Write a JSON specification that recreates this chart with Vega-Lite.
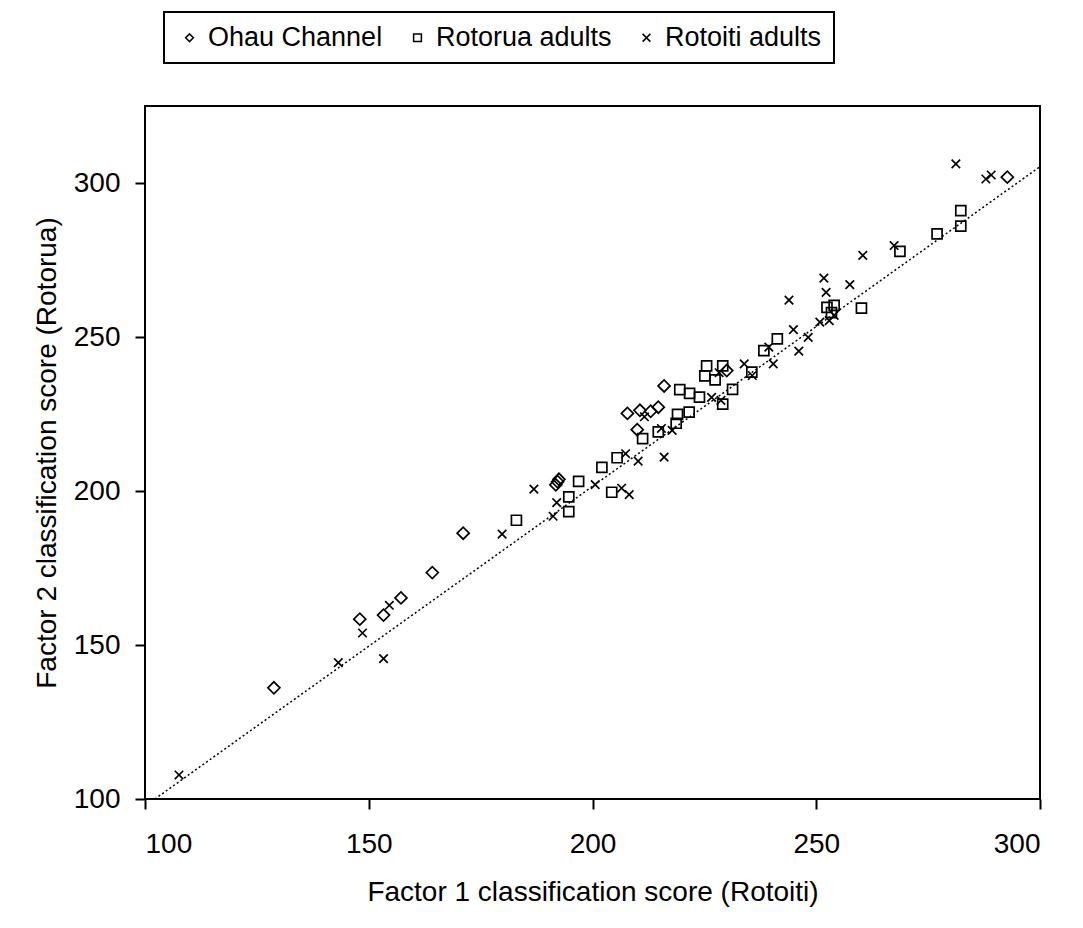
{
  "$schema": "https://vega.github.io/schema/vega-lite/v6.json",
  "width": 895,
  "height": 693,
  "autosize": {"type": "none"},
  "padding": {"left": 145, "top": 106, "right": 43, "bottom": 129},
  "background": "white",
  "datasets": {
    "pts": [
      {"g": "Ohau Channel", "x": 128.8, "y": 136.1},
      {"g": "Ohau Channel", "x": 148.0, "y": 158.4},
      {"g": "Ohau Channel", "x": 153.3, "y": 159.7},
      {"g": "Ohau Channel", "x": 157.2, "y": 165.3},
      {"g": "Ohau Channel", "x": 164.2, "y": 173.5},
      {"g": "Ohau Channel", "x": 171.1, "y": 186.3},
      {"g": "Ohau Channel", "x": 191.8, "y": 202.0},
      {"g": "Ohau Channel", "x": 192.2, "y": 203.0},
      {"g": "Ohau Channel", "x": 192.5, "y": 203.8},
      {"g": "Ohau Channel", "x": 207.8, "y": 225.2},
      {"g": "Ohau Channel", "x": 210.6, "y": 226.2},
      {"g": "Ohau Channel", "x": 213.0, "y": 225.9},
      {"g": "Ohau Channel", "x": 214.7, "y": 227.2},
      {"g": "Ohau Channel", "x": 210.0, "y": 219.9},
      {"g": "Ohau Channel", "x": 216.0, "y": 234.1},
      {"g": "Ohau Channel", "x": 230.0, "y": 239.1},
      {"g": "Ohau Channel", "x": 292.7, "y": 301.9},
      {"g": "Rotorua adults", "x": 183.0, "y": 190.5},
      {"g": "Rotorua adults", "x": 194.7, "y": 198.1},
      {"g": "Rotorua adults", "x": 194.7, "y": 193.3},
      {"g": "Rotorua adults", "x": 196.9, "y": 203.1},
      {"g": "Rotorua adults", "x": 202.1, "y": 207.7},
      {"g": "Rotorua adults", "x": 204.3, "y": 199.6},
      {"g": "Rotorua adults", "x": 205.5, "y": 210.8},
      {"g": "Rotorua adults", "x": 211.2, "y": 217.0},
      {"g": "Rotorua adults", "x": 214.7, "y": 219.2},
      {"g": "Rotorua adults", "x": 218.7, "y": 222.0},
      {"g": "Rotorua adults", "x": 219.0, "y": 224.9},
      {"g": "Rotorua adults", "x": 221.6, "y": 225.6},
      {"g": "Rotorua adults", "x": 219.5, "y": 232.9},
      {"g": "Rotorua adults", "x": 221.7, "y": 231.7},
      {"g": "Rotorua adults", "x": 223.9, "y": 230.5},
      {"g": "Rotorua adults", "x": 229.1, "y": 228.2},
      {"g": "Rotorua adults", "x": 231.3, "y": 233.0},
      {"g": "Rotorua adults", "x": 225.5, "y": 240.6},
      {"g": "Rotorua adults", "x": 229.1, "y": 240.6},
      {"g": "Rotorua adults", "x": 225.1, "y": 237.4},
      {"g": "Rotorua adults", "x": 227.4, "y": 236.1},
      {"g": "Rotorua adults", "x": 235.6, "y": 238.6},
      {"g": "Rotorua adults", "x": 238.3, "y": 245.6},
      {"g": "Rotorua adults", "x": 241.3, "y": 249.4},
      {"g": "Rotorua adults", "x": 252.4, "y": 259.6},
      {"g": "Rotorua adults", "x": 254.0, "y": 260.3},
      {"g": "Rotorua adults", "x": 253.4, "y": 257.9},
      {"g": "Rotorua adults", "x": 260.1, "y": 259.4},
      {"g": "Rotorua adults", "x": 268.7, "y": 277.8},
      {"g": "Rotorua adults", "x": 277.0, "y": 283.5},
      {"g": "Rotorua adults", "x": 282.3, "y": 286.0},
      {"g": "Rotorua adults", "x": 282.3, "y": 291.0},
      {"g": "Rotoiti adults", "x": 107.6, "y": 107.8},
      {"g": "Rotoiti adults", "x": 143.2, "y": 144.3},
      {"g": "Rotoiti adults", "x": 148.6, "y": 153.9},
      {"g": "Rotoiti adults", "x": 153.3, "y": 145.6},
      {"g": "Rotoiti adults", "x": 154.6, "y": 162.9},
      {"g": "Rotoiti adults", "x": 179.8, "y": 186.0},
      {"g": "Rotoiti adults", "x": 186.9, "y": 200.6},
      {"g": "Rotoiti adults", "x": 191.2, "y": 191.8},
      {"g": "Rotoiti adults", "x": 192.0, "y": 196.2},
      {"g": "Rotoiti adults", "x": 200.6, "y": 202.1},
      {"g": "Rotoiti adults", "x": 206.5, "y": 200.9},
      {"g": "Rotoiti adults", "x": 208.2, "y": 198.8},
      {"g": "Rotoiti adults", "x": 207.4, "y": 212.1},
      {"g": "Rotoiti adults", "x": 210.2, "y": 209.7},
      {"g": "Rotoiti adults", "x": 211.6, "y": 224.1},
      {"g": "Rotoiti adults", "x": 215.4, "y": 220.3},
      {"g": "Rotoiti adults", "x": 217.8, "y": 219.7},
      {"g": "Rotoiti adults", "x": 216.0, "y": 211.0},
      {"g": "Rotoiti adults", "x": 226.6, "y": 230.4},
      {"g": "Rotoiti adults", "x": 228.7, "y": 229.4},
      {"g": "Rotoiti adults", "x": 228.3, "y": 238.4},
      {"g": "Rotoiti adults", "x": 233.9, "y": 241.3},
      {"g": "Rotoiti adults", "x": 235.7, "y": 237.5},
      {"g": "Rotoiti adults", "x": 239.4, "y": 246.7},
      {"g": "Rotoiti adults", "x": 240.4, "y": 241.3},
      {"g": "Rotoiti adults", "x": 243.9, "y": 262.0},
      {"g": "Rotoiti adults", "x": 244.9, "y": 252.4},
      {"g": "Rotoiti adults", "x": 246.1, "y": 245.4},
      {"g": "Rotoiti adults", "x": 248.2, "y": 249.9},
      {"g": "Rotoiti adults", "x": 250.8, "y": 254.8},
      {"g": "Rotoiti adults", "x": 252.9, "y": 255.3},
      {"g": "Rotoiti adults", "x": 254.0, "y": 257.0},
      {"g": "Rotoiti adults", "x": 251.7, "y": 269.1},
      {"g": "Rotoiti adults", "x": 252.2, "y": 264.5},
      {"g": "Rotoiti adults", "x": 257.5, "y": 267.0},
      {"g": "Rotoiti adults", "x": 260.4, "y": 276.5},
      {"g": "Rotoiti adults", "x": 267.4, "y": 279.7},
      {"g": "Rotoiti adults", "x": 281.2, "y": 306.2},
      {"g": "Rotoiti adults", "x": 287.9, "y": 301.3},
      {"g": "Rotoiti adults", "x": 289.1, "y": 302.6}
    ],
    "trend": [
      {"x": 102.2, "y": 100},
      {"x": 300, "y": 305.3}
    ]
  },
  "encoding": {
    "x": {
      "field": "x", "type": "quantitative",
      "scale": {"domain": [100, 300], "nice": false, "zero": false},
      "axis": {"values": [100, 150, 200, 250, 300], "title": "Factor 1 classification score (Rotoiti)", "labelPadding": 21, "titleBaseline": "alphabetic", "titleY": 101}
    },
    "y": {
      "field": "y", "type": "quantitative",
      "scale": {"domain": [100, 325], "nice": false, "zero": false},
      "axis": {"values": [100, 150, 200, 250, 300], "title": "Factor 2 classification score (Rotorua)", "labelPadding": 15, "titleBaseline": "alphabetic", "titleX": -90}
    }
  },
  "layer": [
    {
      "data": {"name": "trend"},
      "mark": {"type": "line", "color": "black", "strokeWidth": 1.5, "strokeDash": [2, 2.5]},
      "encoding": {}
    },
    {
      "data": {"name": "pts"},
      "transform": [{"filter": "datum.g === 'Ohau Channel'"}],
      "mark": {"type": "point", "filled": false, "color": "black", "strokeWidth": 1.7, "opacity": 1, "size": 144},
      "encoding": {
        "shape": {
          "field": "g", "type": "nominal",
          "scale": {"domain": ["Ohau Channel", "Rotorua adults", "Rotoiti adults"], "range": ["diamond", "square", "M-1,-1L1,1M-1,1L1,-1"]},
          "legend": {"title": null, "orient": "none", "legendX": 19, "legendY": -94, "direction": "horizontal"}
        }
      }
    },
    {
      "data": {"name": "pts"},
      "transform": [{"filter": "datum.g === 'Rotorua adults'"}],
      "mark": {"type": "point", "filled": false, "color": "black", "strokeWidth": 1.7, "opacity": 1, "size": 100},
      "encoding": {
        "shape": {"field": "g", "type": "nominal"}
      }
    },
    {
      "data": {"name": "pts"},
      "transform": [{"filter": "datum.g === 'Rotoiti adults'"}],
      "mark": {"type": "point", "filled": false, "color": "black", "strokeWidth": 1.7, "opacity": 1, "size": 72},
      "encoding": {
        "shape": {"field": "g", "type": "nominal"}
      }
    }
  ],
  "config": {
    "font": "Liberation Sans",
    "view": {"stroke": "black", "strokeWidth": 2},
    "axis": {
      "domain": false,
      "grid": false,
      "ticks": true,
      "tickColor": "black",
      "tickWidth": 2,
      "tickSize": 10,
      "labelFont": "Liberation Sans",
      "labelFontSize": 28,
      "labelColor": "black",
      "titleFont": "Liberation Sans",
      "titleFontSize": 28,
      "titleFontWeight": "normal",
      "titleColor": "black"
    },
    "legend": {
      "strokeColor": "black",
      "strokeWidth": 2,
      "padding": 12,
      "labelFont": "Liberation Sans",
      "labelFontSize": 27,
      "labelLimit": 0,
      "labelColor": "black",
      "labelOffset": 5,
      "columnPadding": 21,
      "symbolSize": 60,
      "symbolStrokeColor": "black",
      "symbolStrokeWidth": 1.5,
      "symbolFillColor": "transparent"
    }
  }
}
